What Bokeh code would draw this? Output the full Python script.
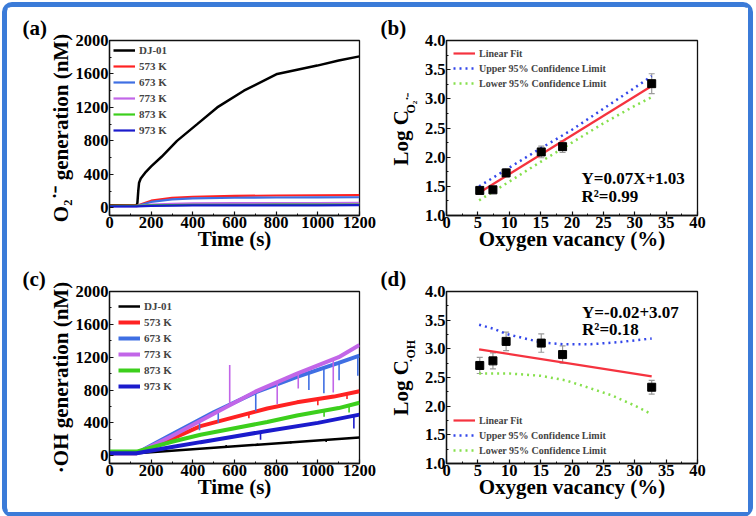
from bokeh.plotting import figure
from bokeh.layouts import gridplot
from bokeh.models import (Range1d, Label, Legend, LegendItem, Whisker, ColumnDataSource,
                          SingleIntervalTicker, NumeralTickFormatter, TeeHead, Title)
from bokeh.embed import file_html
from bokeh.resources import INLINE

FONT = "Liberation Serif"

# ---------------- Panel (a): O2.- generation ----------------
a_time_dj = [0, 130, 134, 138, 142, 150, 175, 200, 250, 324, 421, 517, 645, 805, 997, 1100, 1200]
a_dj = [30, 28, 60, 200, 300, 350, 430, 495, 610, 800, 1000, 1200, 1400, 1600, 1700, 1760, 1810]
a_time = [0, 130, 200, 300, 400, 600, 800, 1000, 1200]
a_573 = [25, 25, 85, 118, 132, 142, 147, 150, 152]
a_673 = [20, 20, 70, 100, 112, 120, 123, 125, 126]
a_773 = [20, 20, 38, 48, 52, 55, 56, 57, 58]
a_873 = [22, 22, 28, 32, 34, 36, 37, 38, 38]
a_973 = [18, 18, 24, 27, 28, 29, 30, 30, 31]

# ---------------- Panel (c): .OH generation ----------------
c_time_dj = [0, 130, 1200]
c_dj = [30, 30, 222]
c_time_573 = [0, 130, 250, 437, 600, 757, 900, 1077, 1200]
c_573 = [30, 30, 150, 360, 470, 575, 650, 720, 785]
c_time_673 = [0, 130, 300, 500, 700, 900, 1100, 1200]
c_673 = [30, 30, 260, 530, 770, 960, 1130, 1220]
c_time_773 = [0, 130, 300, 500, 700, 900, 1100, 1200]
c_773 = [30, 30, 240, 510, 780, 1000, 1200, 1350]
c_time_873 = [0, 130, 300, 437, 600, 757, 900, 1100, 1200]
c_873 = [50, 50, 170, 255, 335, 411, 490, 580, 645]
c_time_973 = [0, 130, 300, 437, 600, 757, 1000, 1200]
c_973 = [30, 30, 105, 165, 235, 300, 400, 500]

# short noise spikes seen on the .OH traces: time, trace value, spike tip
spk_dj_t = [560, 710, 870, 1040]
spk_dj_base = [130, 150, 175, 195]
spk_dj_tip = [105, 118, 150, 168]
spk_573_t = [669, 1000, 1140]
spk_573_base = [525, 690, 760]
spk_573_tip = [455, 615, 690]
spk_673_t = [432, 522, 702, 957, 1029, 1102, 1192]
spk_673_base = [425, 545, 772, 1010, 1075, 1132, 1215]
spk_673_tip = [310, 400, 540, 800, 760, 920, 975]
spk_773_t = [577, 805, 906, 1074]
spk_773_base = [615, 890, 1005, 1180]
spk_773_tip = [1105, 630, 820, 770]
spk_873_t = [1030, 1150]
spk_873_base = [555, 615]
spk_873_tip = [475, 525]
spk_973_t = [725, 1173]
spk_973_base = [290, 488]
spk_973_tip = [195, 330]

# ---------------- Panel (b): Log C(O2.-) vs oxygen vacancy ----------------
vacancy = [5.3, 7.4, 9.5, 15.1, 18.5, 32.7]
b_log = [1.43, 1.44, 1.73, 2.09, 2.18, 3.26]
b_err = [0.05, 0.05, 0.07, 0.10, 0.10, 0.17]
b_fit_x = [5.2, 32.7]
b_fit_y = [1.39, 3.22]
b_cl_x = [5.2, 10, 15, 20, 25, 30, 32.7]
b_upper = [1.50, 1.82, 2.15, 2.47, 2.83, 3.19, 3.39]
b_lower = [1.26, 1.58, 1.92, 2.25, 2.58, 2.88, 3.03]

# ---------------- Panel (d): Log C(.OH) vs oxygen vacancy ----------------
d_log = [2.71, 2.79, 3.13, 3.10, 2.90, 2.33]
d_err = [0.14, 0.14, 0.16, 0.16, 0.15, 0.12]
d_fit_x = [5.2, 32.7]
d_fit_y = [2.99, 2.52]
d_up_x = [5.2, 7.5, 9.5, 12.9, 15.2, 18.7, 23, 27.8, 32.7]
d_upper = [3.42, 3.35, 3.26, 3.17, 3.11, 3.08, 3.08, 3.12, 3.18]
d_lo_x = [5.2, 10, 15, 19, 23, 26.3, 30, 32.7]
d_lower = [2.57, 2.57, 2.53, 2.45, 2.31, 2.19, 2.01, 1.86]

series_labels = ["DJ-01", "573 K", "673 K", "773 K", "873 K", "973 K"]
series_colors = ["#000000", "#ff2222", "#3f6fe3", "#c266e8", "#3ccf1c", "#1b1bcc"]
fit_labels = ["Linear Fit", "Upper 95% Confidence Limit", "Lower 95% Confidence Limit"]

FIT_RED = "#f5333f"
UP_BLUE = "#3347ea"
LO_GREEN = "#86e04c"
INK = "#111111"


def base_fig(xr, yr, fw, fh, bl, br, bt, bb, xint, yint, xlabel, ylabel, yfmt=None):
    p = figure(frame_width=fw, frame_height=fh, x_range=Range1d(*xr), y_range=Range1d(*yr),
               output_backend="svg", toolbar_location=None,
               min_border_left=bl, min_border_right=br, min_border_top=bt, min_border_bottom=bb)
    p.xgrid.visible = False
    p.ygrid.visible = False
    p.outline_line_color = INK
    p.outline_line_width = 1.3
    p.outline_line_alpha = 1.0
    p.background_fill_color = "white"
    p.border_fill_color = "white"
    p.xaxis.ticker = SingleIntervalTicker(interval=xint, num_minor_ticks=2)
    p.yaxis.ticker = SingleIntervalTicker(interval=yint, num_minor_ticks=2)
    if yfmt:
        p.yaxis.formatter = NumeralTickFormatter(format=yfmt)
    p.xaxis.axis_label = xlabel
    if ylabel:
        p.yaxis.axis_label = ylabel
    for ax in (p.xaxis[0], p.yaxis[0]):
        ax.major_tick_in = 4
        ax.major_tick_out = 0
        ax.minor_tick_in = 2
        ax.minor_tick_out = 0
        ax.axis_line_color = INK
        ax.axis_line_width = 1.3
        ax.major_tick_line_color = INK
        ax.minor_tick_line_color = INK
        ax.major_tick_line_width = 1.2
        ax.minor_tick_line_width = 1.0
        ax.major_label_text_font = FONT
        ax.major_label_text_font_style = "bold"
        ax.major_label_text_font_size = "16.5px"
        ax.major_label_text_color = "black"
        ax.major_label_standoff = 1
        ax.axis_label_text_font = FONT
        ax.axis_label_text_font_style = "bold"
        ax.axis_label_text_font_size = "21px"
        ax.axis_label_text_color = "black"
    p.xaxis.axis_label_standoff = -4
    p.yaxis.axis_label_standoff = 0
    return p


def panel_tag(p, text, offset, standoff):
    t = Title(text=text, align="left", offset=offset, standoff=standoff,
              text_font=FONT, text_font_style="bold", text_font_size="21px",
              text_color="black")
    p.add_layout(t, "above")


def side_title(p, text, size, offset, standoff):
    t = Title(text=text, align="left", offset=offset, standoff=standoff,
              text_font=FONT, text_font_style="bold", text_font_size=size,
              text_color="black")
    p.add_layout(t, "left")


def add_text(p, text, x, y, size="17px"):
    p.add_layout(Label(x=x, y=y, text=text, text_font=FONT, text_font_style="bold",
                       text_font_size=size, text_color="black", text_baseline="alphabetic"))


def make_legend(items, loc, size, margin, padding, spacing=4):
    return Legend(items=items, location=loc, border_line_color=None, background_fill_alpha=0,
                  label_text_font=FONT, label_text_font_style="bold", label_text_font_size=size,
                  glyph_width=22, glyph_height=12, label_height=12, spacing=spacing,
                  padding=padding, margin=margin, label_standoff=4)


def add_errors(p, xs, ys, es):
    src = ColumnDataSource(dict(x=xs, y=ys,
                                up=[y + e for y, e in zip(ys, es)],
                                lo=[y - e for y, e in zip(ys, es)]))
    p.add_layout(Whisker(source=src, base="x", upper="up", lower="lo", line_color="#9a9a9a",
                         line_width=1.2,
                         upper_head=TeeHead(size=6, line_color="#9a9a9a", line_width=1.2),
                         lower_head=TeeHead(size=6, line_color="#9a9a9a", line_width=1.2)))
    p.scatter("x", "y", source=src, marker="square", size=8, color="black")


FW_L, FW_R = 250, 251
FH_TOP, FH_BOT = 175, 172
BT_TOP, BT_BOT, BB = 33, 24, 49

# ---- (a)
pa = base_fig((0, 1200), (-92, 2000), FW_L, FH_TOP, 102, 19, BT_TOP, BB, 200, 400,
              "Time (s)", "O\u2082\u02d9\u207b generation (nM)")
a_data = [(a_time_dj, a_dj, 2.5), (a_time, a_573, 2.2), (a_time, a_673, 2.2),
          (a_time, a_773, 2.2), (a_time, a_873, 2.2), (a_time, a_973, 2.2)]
a_items = []
for (t, v, w), lab, col in zip(a_data, series_labels, series_colors):
    r = pa.line(t, v, line_color=col, line_width=w)
    a_items.append(LegendItem(label=lab, renderers=[r]))
pa.add_layout(make_legend(a_items, "top_left", "11px", 4, 3))
panel_tag(pa, "(a)", -87, 1)

# ---- (b)
pb = base_fig((0, 40), (1.0, 4.0), FW_R, FH_TOP, 68, 51, BT_TOP, BB, 5, 0.5,
              "Oxygen vacancy (%)", None, "0.0")
rb_fit = pb.line(b_fit_x, b_fit_y, line_color=FIT_RED, line_width=2.2)
rb_up = pb.line(b_cl_x, b_upper, line_color=UP_BLUE, line_width=2.5, line_dash="2 4")
rb_lo = pb.line(b_cl_x, b_lower, line_color=LO_GREEN, line_width=2.5, line_dash="2 4")
add_errors(pb, vacancy, b_log, b_err)
pb.add_layout(make_legend([LegendItem(label=fit_labels[0], renderers=[rb_fit]),
                           LegendItem(label=fit_labels[1], renderers=[rb_up]),
                           LegendItem(label=fit_labels[2], renderers=[rb_lo])],
                          "top_left", "10px", 7, 2, spacing=3))
add_text(pb, "Y=0.07X+1.03", 21.5, 1.63)
add_text(pb, "R\u00b2=0.99", 21.5, 1.33)
panel_tag(pb, "(b)", -66, 1)
side_title(pb, "O\u2082\u02d9\u207b", "12px", 102, 7)
side_title(pb, "Log C", "21px", 50, -29)

# ---- (c)
pc = base_fig((0, 1200), (-95, 2000), FW_L, FH_BOT, 102, 19, BT_BOT, BB, 200, 400,
              "Time (s)", "\u00b7OH generation (nM)")
c_data = [(c_time_dj, c_dj, 2.5, spk_dj_t, spk_dj_base, spk_dj_tip),
          (c_time_573, c_573, 4, spk_573_t, spk_573_base, spk_573_tip),
          (c_time_673, c_673, 4, spk_673_t, spk_673_base, spk_673_tip),
          (c_time_773, c_773, 4, spk_773_t, spk_773_base, spk_773_tip),
          (c_time_873, c_873, 4, spk_873_t, spk_873_base, spk_873_tip),
          (c_time_973, c_973, 4, spk_973_t, spk_973_base, spk_973_tip)]
c_items = []
for (t, v, w, st, sb, sp), lab, col in zip(c_data, series_labels, series_colors):
    r = pc.line(t, v, line_color=col, line_width=w)
    pc.segment(x0=st, y0=sb, x1=st, y1=sp, line_color=col, line_width=1.6)
    c_items.append(LegendItem(label=lab, renderers=[r]))
pc.add_layout(make_legend(c_items, "top_left", "11px", 9, 2))
panel_tag(pc, "(c)", -87, 1)

# ---- (d)
pd = base_fig((0, 40), (1.0, 4.0), FW_R, FH_BOT, 68, 51, BT_BOT, BB, 5, 0.5,
              "Oxygen vacancy (%)", None, "0.0")
rd_fit = pd.line(d_fit_x, d_fit_y, line_color=FIT_RED, line_width=2.2)
rd_up = pd.line(d_up_x, d_upper, line_color=UP_BLUE, line_width=2.5, line_dash="2 4")
rd_lo = pd.line(d_lo_x, d_lower, line_color=LO_GREEN, line_width=2.5, line_dash="2 4")
add_errors(pd, vacancy, d_log, d_err)
pd.add_layout(make_legend([LegendItem(label=fit_labels[0], renderers=[rd_fit]),
                           LegendItem(label=fit_labels[1], renderers=[rd_up]),
                           LegendItem(label=fit_labels[2], renderers=[rd_lo])],
                          "bottom_left", "10px", 7, 2, spacing=3))
add_text(pd, "Y=-0.02+3.07", 21.6, 3.64)
add_text(pd, "R\u00b2=0.18", 21.6, 3.33)
panel_tag(pd, "(d)", -66, 1)
side_title(pd, "\u00b7OH", "12px", 101, 7)
side_title(pd, "Log C", "21px", 48, -29)

grid = gridplot([[pa, pb], [pc, pd]], toolbar_location=None)
grid.styles = {"border": "5px solid #3b7bd8", "border-radius": "10px", "margin": "2px"}

open("out.html", "w").write(file_html(grid, INLINE))
